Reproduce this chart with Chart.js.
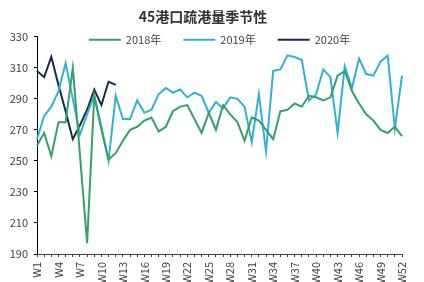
<!DOCTYPE html>
<html>
<head>
<meta charset="utf-8">
<script src="https://cdn.jsdelivr.net/npm/chart.js@4.4.1/dist/chart.umd.min.js"></script>
<style>
  html, body { margin: 0; padding: 0; background: #ffffff; }
  #wrap { width: 424px; height: 282px; }
</style>
</head>
<body>
<div id="wrap"><canvas id="seasonChart" width="424" height="282"></canvas></div>
<script>
const weeks = [
  "W1", "W2", "W3", "W4", "W5", "W6", "W7", "W8", "W9", "W10",
  "W11", "W12", "W13", "W14", "W15", "W16", "W17", "W18", "W19", "W20",
  "W21", "W22", "W23", "W24", "W25", "W26", "W27", "W28", "W29", "W30",
  "W31", "W32", "W33", "W34", "W35", "W36", "W37", "W38", "W39", "W40",
  "W41", "W42", "W43", "W44", "W45", "W46", "W47", "W48", "W49", "W50",
  "W51", "W52"
];

const values2018 = [
  260, 268, 253, 275, 275, 310, 254, 197, 292, 270,
  251, 255, 263, 270, 272, 276, 278, 269, 272, 282,
  285, 286, 277, 268, 281, 270, 286, 280, 275, 263,
  278, 276, 270, 264, 282, 283, 287, 285, 292, 291,
  289, 291, 305, 308, 295, 287, 280, 276, 270, 268,
  272, 266
];

const values2019 = [
  264, 279, 285, 295, 313, 290, 267, 280, 292, 272,
  250, 292, 277, 277, 289, 281, 283, 293, 297, 294,
  296, 291, 294, 292, 281, 288, 284, 291, 290, 285,
  262, 293, 256, 308, 309, 318, 317, 315, 289, 293,
  309, 304, 268, 311, 297, 316, 306, 305, 314, 318,
  271, 305
];

const values2020 = [308, 304, 317, 299, 282, 264, 273, 283, 296, 286, 301, 299];

const seriesNames = ["2018年", "2019年", "2020年"];
const seriesColors = ["#35a06a", "#2fb2d8", "#1b2a48"];

const yMin = 190;
const yMax = 330;
const yStep = 20;

const fontFamily = '"Noto Sans CJK SC", "Liberation Sans", sans-serif';

// legend drawn inside the top of the plot area, like the original
const insideLegend = {
  id: "insideLegend",
  afterDraw(chart) {
    const c = chart.ctx;
    const area = chart.chartArea;
    const swatch = 32;
    const gap = 5;
    const spacing = 22;
    c.save();
    c.font = "11px " + fontFamily;
    const items = chart.data.datasets.map((ds) => ({
      text: ds.label,
      color: ds.borderColor,
      w: swatch + gap + c.measureText(ds.label).width,
    }));
    const total = items.reduce((s, it) => s + it.w, 0) + spacing * (items.length - 1);
    let x = (area.left + area.right) / 2 - total / 2;
    const y = area.top + 3;
    items.forEach((it) => {
      c.strokeStyle = it.color;
      c.lineWidth = 2;
      c.beginPath();
      c.moveTo(x, y);
      c.lineTo(x + swatch, y);
      c.stroke();
      c.fillStyle = "#404040";
      c.textBaseline = "middle";
      c.textAlign = "left";
      c.fillText(it.text, x + swatch + gap, y);
      x += it.w + spacing;
    });
    c.restore();
  },
};

const ctx = document.getElementById("seasonChart").getContext("2d");

new Chart(ctx, {
  type: "line",
  data: {
    labels: weeks,
    datasets: [
      {
        label: seriesNames[0],
        data: values2018,
        borderColor: seriesColors[0],
        backgroundColor: seriesColors[0],
        borderWidth: 2,
        pointRadius: 0,
        tension: 0,
      },
      {
        label: seriesNames[1],
        data: values2019,
        borderColor: seriesColors[1],
        backgroundColor: seriesColors[1],
        borderWidth: 2,
        pointRadius: 0,
        tension: 0,
      },
      {
        label: seriesNames[2],
        data: values2020,
        borderColor: seriesColors[2],
        backgroundColor: seriesColors[2],
        borderWidth: 2,
        pointRadius: 0,
        tension: 0,
      },
    ],
  },
  options: {
    responsive: false,
    animation: false,
    layout: {
      padding: { left: 4, right: 22, top: 0, bottom: 0 },
    },
    scales: {
      x: {
        offset: false,
        grid: {
          display: true,
          drawOnChartArea: false,
          drawTicks: true,
          tickLength: 3,
          color: "#404040",
        },
        border: { display: true, color: "#404040", width: 1 },
        ticks: {
          autoSkip: false,
          minRotation: 90,
          maxRotation: 90,
          padding: 5,
          color: "#404040",
          font: { family: fontFamily, size: 11 },
          callback: function (value, index) {
            return index % 3 === 0 ? weeks[index] : "";
          },
        },
        afterFit: function (scale) {
          scale.height = 28;
        },
      },
      y: {
        min: yMin,
        max: yMax,
        grid: {
          display: true,
          drawOnChartArea: false,
          drawTicks: true,
          tickLength: 3,
          color: "#000000",
        },
        border: { display: true, color: "#000000", width: 1 },
        ticks: {
          stepSize: yStep,
          padding: 6,
          color: "#404040",
          font: { family: fontFamily, size: 11 },
        },
        afterFit: function (scale) {
          scale.width = 33;
        },
      },
    },
    plugins: {
      title: {
        display: true,
        text: "45港口疏港量季节性",
        color: "#333333",
        font: { family: fontFamily, size: 14, weight: "bold" },
        padding: { top: 8, bottom: 12 },
      },
      legend: { display: false },
      tooltip: { enabled: false },
    },
  },
  plugins: [insideLegend],
});
</script>
</body>
</html>
